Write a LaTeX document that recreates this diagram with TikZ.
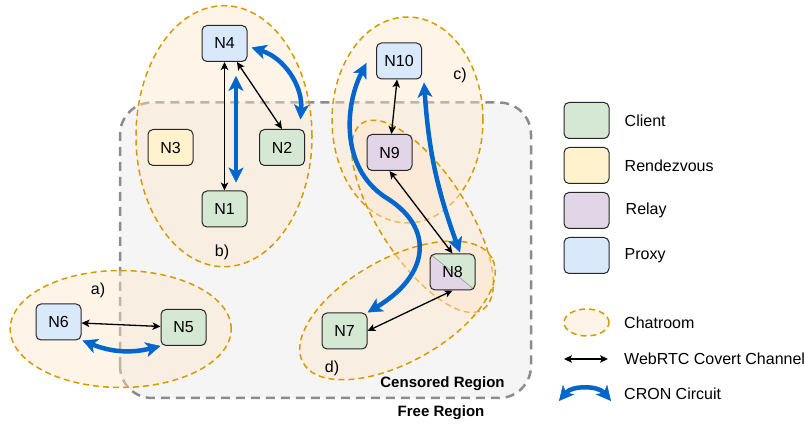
\documentclass[tikz,border=0pt]{standalone}
\usepackage{fontspec}
\setmainfont{Liberation Sans}
\usetikzlibrary{arrows.meta,positioning}
\definecolor{clientgreen}{HTML}{D5E8D4}
\definecolor{rdvyellow}{HTML}{FFF2CC}
\definecolor{relaypurple}{HTML}{E1D5E7}
\definecolor{proxyblue}{HTML}{DAE8FC}
\definecolor{roomedge}{HTML}{D79B00}
\definecolor{roomfill}{HTML}{FFE6CC}
\definecolor{regionfill}{HTML}{F5F5F5}
\definecolor{regionedge}{HTML}{8C8C8C}
\definecolor{cron}{HTML}{0066CC}
\tikzset{
  peer/.style={
    draw=black!85, line width=1pt, rounded corners=5pt,
    minimum width=45pt, minimum height=36pt, inner sep=0pt,
    font=\fontsize{16}{19}\selectfont
  },
  splitfill/.style={
    fill=clientgreen,
    path picture={
      \fill[relaypurple] (path picture bounding box.north west) -- (path picture bounding box.south east)
        -- (path picture bounding box.south west) -- cycle;
      \draw[black!40, line width=0.6pt] (path picture bounding box.north west) -- (path picture bounding box.south east);
    }
  },
  chatroom/.style={
    draw=roomedge, line width=1.5pt, dash pattern=on 6pt off 4pt,
    fill=roomfill, fill opacity=0.45
  },
  region/.style={
    draw=regionedge, line width=2.5pt, dash pattern=on 9pt off 6pt,
    fill=regionfill, rounded corners=32pt
  },
  roomlabel/.style={font=\fontsize{16}{19}\selectfont, inner sep=0pt},
  regionlabel/.style={font=\fontsize{15}{18}\selectfont\bfseries, inner sep=0pt},
  legtext/.style={font=\fontsize{16}{19}\selectfont, inner sep=0pt, anchor=west},
  webrtc/.style={{Stealth[length=8pt,width=7.5pt,inset=2pt]}-{Stealth[length=8pt,width=7.5pt,inset=2pt]}, line width=1.3pt, draw=black},
  cronarrow/.style={{Stealth[length=15pt,width=15pt,inset=4pt,line width=0.5pt]}-{Stealth[length=15pt,width=15pt,inset=4pt,line width=0.5pt]}, line width=4.5pt, draw=cron}
}
\begin{document}
\begin{tikzpicture}[x=1pt, y=1pt, node distance=8pt]
  \useasboundingbox (0,0) rectangle (805,425);
  % censored / free region
  \draw[region] (120,27) rectangle (531,322.5);
  \node[regionlabel] (censored) at (442.5,41.7) {Censored Region};
  \node[regionlabel] (free) at (441,12) {Free Region};
  % chatrooms
  \draw[chatroom] (120.7,96) ellipse [x radius=110.5pt, y radius=58.5pt];
  \draw[chatroom] (224,288.8) ellipse [x radius=88pt, y radius=130.5pt];
  \draw[chatroom] (407.5,305) ellipse [x radius=75.5pt, y radius=103pt];
  \draw[chatroom, rotate around={-57:(422.5,208.7)}] (422.5,208.7) ellipse [x radius=111pt, y radius=44pt];
  \draw[chatroom, rotate around={29:(397.5,114.6)}] (397.5,114.6) ellipse [x radius=108pt, y radius=52pt];
  \node[roomlabel] (labela) at (98,135) {a)};
  \node[roomlabel] (labelb) at (222,173) {b)};
  \node[roomlabel] (labelc) at (460,350) {c)};
  \node[roomlabel] (labeld) at (332,56.7) {d)};
  % peers
  \node[peer, fill=proxyblue] (n4) at (224.5,381.5) {N4};
  \node[peer, fill=rdvyellow] (n3) at (170.5,277.5) {N3};
  \node[peer, fill=clientgreen] (n1) at (224.5,216) {N1};
  \node[peer, fill=clientgreen] (n2) at (282,277.5) {N2};
  \node[peer, fill=proxyblue] (n10) at (399,364) {N10};
  \node[peer, fill=relaypurple] (n9) at (389.5,272.5) {N9};
  \node[peer, splitfill] (n8) at (452.5,153) {N8};
  \node[peer, fill=clientgreen] (n7) at (344.5,94) {N7};
  \node[peer, fill=proxyblue] (n6) at (58.5,103) {N6};
  \node[peer, fill=clientgreen] (n5) at (183.5,97.5) {N5};
  % covert channels
  \draw[webrtc] (n4) -- (n1);
  \draw[webrtc] (n4) -- (n2.north);
  \draw[webrtc] (n6) -- (n5);
  \draw[webrtc] (n10) -- (n9);
  \draw[webrtc] (n9.south) -- (n8.north);
  \draw[webrtc] (n7.east) -- (n8.south);
  % circuits
  \draw[cronarrow] ([xshift=11.5pt,yshift=-14pt]n4.south) -- ([xshift=11.5pt,yshift=8pt]n1.north);
  \draw[cronarrow] ([xshift=4pt,yshift=-4pt]n4.east) to[bend left=38] ([xshift=-4.5pt,yshift=9.5pt]n2.north east);
  \draw[cronarrow] ([xshift=1pt]n6.south east) to[bend right=18] (n5.south west);
  \draw[cronarrow] ([xshift=2pt,yshift=-3pt]n10.south east) to[bend right=8] ([xshift=7.5pt,yshift=1pt]n8.north);
  \draw[cronarrow] ([xshift=-9.5pt,yshift=-2pt]n10.west) .. controls (345,320) and (340,258) .. (385,228)
    .. controls (435,198) and (430,150) .. (n7.north east);
  % legend
  \node[peer, fill=clientgreen] (lgclient) at (586.5,304.5) {};
  \node[peer, fill=rdvyellow, below=of lgclient] (lgrdv) {};
  \node[peer, fill=relaypurple, below=of lgrdv] (lgrelay) {};
  \node[peer, fill=proxyblue, below=of lgrelay] (lgproxy) {};
  \node[legtext, right=15pt of lgclient] (txclient) {Client};
  \node[legtext, right=15pt of lgrdv] (txrdv) {Rendezvous};
  \node[legtext, right=16pt of lgrelay] (txrelay) {Relay};
  \node[legtext, right=15pt of lgproxy] (txproxy) {Proxy};
  \draw[chatroom] (586.5,102.5) ellipse [x radius=22.5pt, y radius=13.5pt];
  \node[legtext] (txroom) at (624,102.5) {Chatroom};
  \coordinate (lgwa) at (564,66);
  \coordinate (lgwb) at (608,66);
  \draw[webrtc] (lgwa) -- (lgwb);
  \node[legtext] (txwebrtc) at (624,66) {WebRTC Covert Channel};
  \coordinate (lgca) at (559,24);
  \coordinate (lgcb) at (611,24);
  \draw[cronarrow] (lgca) to[bend left=50] (lgcb);
  \node[legtext] (txcron) at (624,31) {CRON Circuit};
\end{tikzpicture}
\end{document}
